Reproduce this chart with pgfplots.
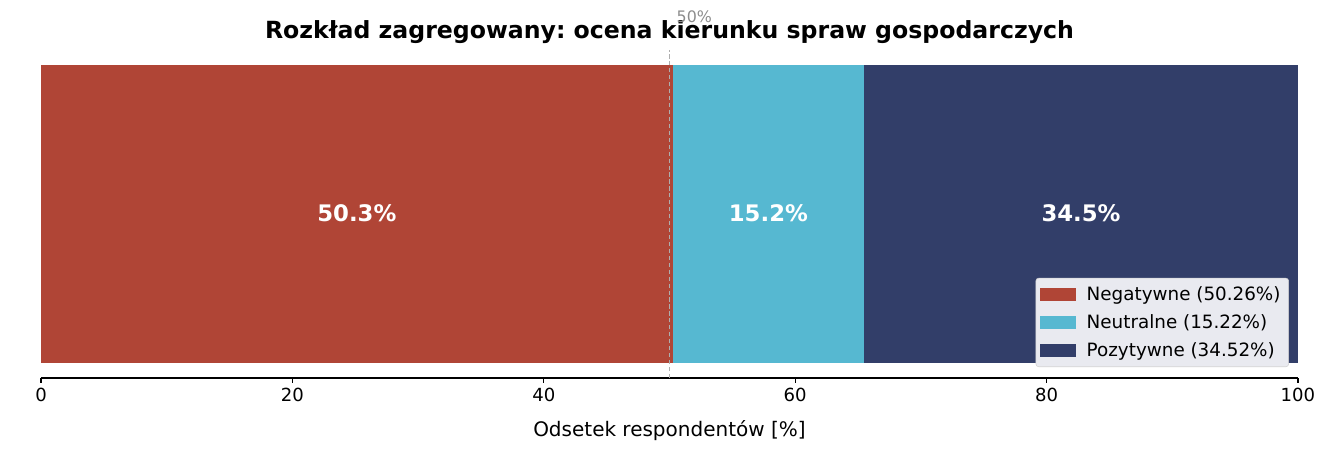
\documentclass[border=0pt]{standalone}
\usepackage{pgfplots}
\pgfplotsset{compat=1.18}
\usepackage{fontspec}
\setmainfont{DejaVu Sans}
\frenchspacing
\definecolor{negc}{RGB}{176,69,54}
\definecolor{neuc}{RGB}{86,184,209}
\definecolor{posc}{RGB}{50,62,105}
\definecolor{legbg}{RGB}{233,234,240}
\definecolor{refgray}{RGB}{140,140,140}
\begin{document}
\begin{tikzpicture}
\useasboundingbox (-29.52pt,-65.52pt) rectangle (938.16pt,272.16pt);
\begin{axis}[
  at={(0,0)}, anchor=south west,
  scale only axis, width=905pt, height=236pt,
  xbar stacked, bar width=0.8,
  xmin=0, xmax=100, ymin=-0.44, ymax=0.44,
  axis x line*=bottom, hide y axis,
  xtick={0,20,...,100},
  tick align=outside, major tick length=3.5pt,
  tick style={black, line width=0.8pt},
  axis line style={black, line width=0.8pt},
  x axis line style={-},
  /pgf/number format/assume math mode=true,
  tick label style={font=\fontsize{13}{15}\selectfont},
  xlabel={Odsetek respondentów [\%]},
  xlabel style={font=\fontsize{14.4}{17}\selectfont, at={(axis description cs:0.5,0)}, anchor=base, yshift=-41.8pt},
  title={\bfseries Rozkład zagregowany: ocena kierunku spraw gospodarczych},
  title style={font=\fontsize{17}{20}\selectfont, at={(axis description cs:0.5,1)}, anchor=base, yshift=2.6pt},
  legend style={at={(0.9928,0.0335)}, anchor=south east, fill=legbg, draw=black!18, rounded corners=2pt,
    font=\fontsize{13.2}{15}\selectfont, row sep=4.6pt, inner xsep=2.8pt, inner ysep=4pt,
    nodes={inner xsep=3pt}},
  legend cell align=left,
  legend image code/.code={
    \fill[#1, sharp corners] (0pt,-4.7pt) rectangle (26pt,4.7pt);
    \path (30.8pt,0pt);},
  every axis plot/.append style={draw=none},
]
\addplot[fill=negc] coordinates {(50.26,0)};
\addlegendentry{Negatywne (50.26\%)}
\addplot[fill=neuc] coordinates {(15.22,0)};
\addlegendentry{Neutralne (15.22\%)}
\addplot[fill=posc] coordinates {(34.52,0)};
\addlegendentry{Pozytywne (34.52\%)}
\coordinate (l1) at (axis cs:25.13,0);
\coordinate (l2) at (axis cs:57.87,0);
\coordinate (l3) at (axis cs:82.74,0);
\coordinate (ref) at (axis cs:50,0.44);
\end{axis}
\begin{axis}[
  at={(0,0)}, anchor=south west,
  scale only axis, width=905pt, height=236pt,
  xmin=0, xmax=100, ymin=-0.44, ymax=0.44,
  hide axis,
]
\addplot[refgray!70, line width=0.8pt, dash pattern=on 3pt off 2pt] coordinates {(50,-0.44) (50,0.44)};
\end{axis}
\node[font=\fontsize{16.4}{19}\selectfont\bfseries, text=white] at ([yshift=1pt]l1) {50.3\%};
\node[font=\fontsize{16.4}{19}\selectfont\bfseries, text=white] at ([yshift=1pt]l2) {15.2\%};
\node[font=\fontsize{16.4}{19}\selectfont\bfseries, text=white] at ([yshift=1pt]l3) {34.5\%};
\node[font=\fontsize{11.4}{13}\selectfont, text=refgray, anchor=base west, inner sep=0pt] at ([xshift=5pt,yshift=20pt]ref) {50\%};
\end{tikzpicture}
\end{document}
